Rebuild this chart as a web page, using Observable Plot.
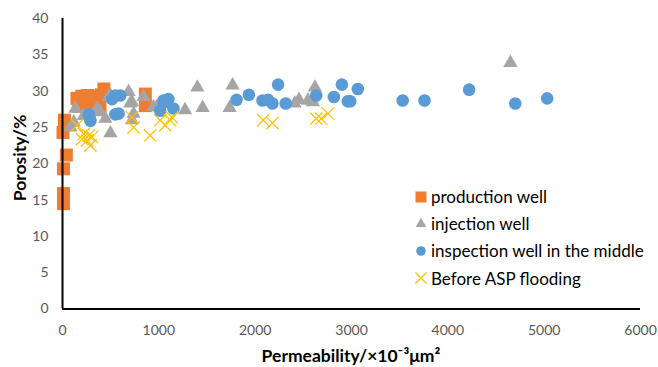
<!DOCTYPE html>
<html><head><meta charset="utf-8">
<script src="https://cdn.jsdelivr.net/npm/d3@7"></script>
<script src="https://cdn.jsdelivr.net/npm/@observablehq/plot@0.6"></script>
<style>
body{margin:0;background:#fff;}
#chart{position:relative;width:658px;height:367px;font-family:Lato,"Open Sans",sans-serif;}
#chart svg{display:block;}
.lab{position:absolute;font-weight:bold;font-size:17.5px;color:#000;white-space:nowrap;}
#legend{position:absolute;left:414px;top:183px;font-size:17px;color:#000;}
#legend .row{height:27.2px;display:flex;align-items:center;white-space:nowrap;}
#legend svg{margin-right:3px;}
</style></head><body>
<div id="chart"></div>
<script>
const seriesNames = ["production well", "injection well", "inspection well in the middle", "Before ASP flooding"];
const seriesColors = ["#ED7D31", "#A5A5A5", "#5B9BD5", "#FFC000"];
const xTicks = [0, 1000, 2000, 3000, 4000, 5000, 6000];
const yTicks = [0, 5, 10, 15, 20, 25, 30, 35, 40];

const productionX = [10, 10, 10, 40, 5, 20, 150, 200, 260, 330, 430, 400, 170, 250, 320, 390, 280, 860, 860];
const productionY = [14.5, 15.9, 19.3, 21.2, 24.3, 26.0, 29.0, 29.3, 29.4, 29.2, 30.3, 29.5, 27.9, 28.0, 28.2, 27.9, 27.2, 29.6, 28.0];

const injectionX = [83, 117, 135, 221, 359, 393, 445, 497, 479, 497, 686, 703, 721, 738, 721, 841, 945, 980, 1272, 1400, 1455, 1735, 1766, 2410, 2455, 2548, 2600, 2620, 4650];
const injectionY = [25.0, 25.7, 27.6, 26.6, 27.6, 27.1, 26.2, 24.2, 29.2, 29.4, 29.9, 28.3, 28.5, 26.9, 26.0, 29.2, 27.8, 27.8, 27.4, 30.5, 27.7, 27.7, 30.8, 28.3, 28.8, 28.7, 28.5, 30.5, 33.9];

const inspectionX = [272, 290, 514, 548, 548, 583, 600, 1014, 1048, 1066, 1100, 1152, 1807, 1935, 2076, 2134, 2179, 2238, 2317, 2634, 2817, 2900, 2962, 2986, 3066, 3531, 3758, 4221, 4700, 5031];
const inspectionY = [26.8, 25.9, 28.9, 29.4, 26.8, 26.9, 29.4, 27.3, 28.7, 28.5, 28.9, 27.6, 28.8, 29.5, 28.7, 28.8, 28.3, 30.9, 28.3, 29.4, 29.2, 30.9, 28.6, 28.6, 30.3, 28.7, 28.7, 30.2, 28.3, 29.0];

const beforeX = [152, 203, 221, 255, 272, 290, 307, 721, 738, 910, 1014, 1066, 1117, 1135, 2083, 2179, 2634, 2686, 2755];
const beforeY = [25.3, 23.4, 24.1, 23.2, 23.9, 22.5, 23.7, 26.4, 25.0, 23.9, 26.0, 25.3, 26.0, 26.4, 26.0, 25.6, 26.2, 26.2, 26.9];

const toRows = (xs, ys) => xs.map((x, i) => ({x, y: ys[i]}));
const production = toRows(productionX, productionY);
const injection = toRows(injectionX, injectionY);
const inspection = toRows(inspectionX, inspectionY);
const before = toRows(beforeX, beforeY);

const plot = Plot.plot({
  width: 658, height: 367,
  marginLeft: 62, marginRight: 18, marginTop: 18, marginBottom: 58.5,
  style: {fontFamily: 'Lato, "Open Sans", sans-serif', fontSize: "14px", color: "#595959", background: "#fff"},
  x: {domain: [0, 6000], ticks: xTicks, tickSize: 0, tickPadding: 16, label: null, tickFormat: d => String(d)},
  y: {domain: [0, 40], ticks: yTicks, tickSize: 0, tickPadding: 14, label: null},
  marks: [
    Plot.dot(production, {x: "x", y: "y", symbol: "square", r: 7.3, fill: seriesColors[0], stroke: "none"}),
    Plot.dot(injection, {x: "x", y: "y", symbol: "triangle", r: 5.3, fill: seriesColors[1], stroke: "none"}),
    Plot.dot(inspection, {x: "x", y: "y", symbol: "circle", r: 6.3, fill: seriesColors[2], stroke: "none"}),
    Plot.dot(before, {x: "x", y: "y", symbol: "times", r: 5.7, stroke: seriesColors[3], strokeWidth: 1.2, fill: "none"}),
    Plot.ruleY([0], {x1: 0, x2: 6000, stroke: "#000", strokeWidth: 2}),
    Plot.ruleX([0], {y1: 0, y2: 40, stroke: "#000", strokeWidth: 2})
  ]
});
const chart = document.getElementById("chart");
chart.appendChild(plot);

const ylab = document.createElement("div");
ylab.className = "lab";
ylab.textContent = "Porosity/%";
ylab.style.left = "19px"; ylab.style.top = "158px";
ylab.style.transform = "translate(-50%,-50%) rotate(-90deg)";
chart.appendChild(ylab);

const xlab = document.createElement("div");
xlab.className = "lab";
xlab.textContent = "Permeability/×10⁻³μm²";
xlab.style.left = "351px"; xlab.style.top = "355px";
xlab.style.transform = "translate(-50%,-50%)";
chart.appendChild(xlab);

const legend = document.createElement("div");
legend.id = "legend";
seriesNames.forEach((name, i) => {
  const row = document.createElement("div");
  row.className = "row";
  const s = d3.create("svg").attr("width", 14).attr("height", 14);
  const g = s.append("g").attr("transform", "translate(7,7)");
  if (i === 0) g.append("rect").attr("x", -5.5).attr("y", -5.5).attr("width", 11).attr("height", 11).attr("fill", seriesColors[0]);
  if (i === 1) g.append("path").attr("d", d3.symbol(d3.symbolTriangle, 50)()).attr("fill", seriesColors[1]);
  if (i === 2) g.append("circle").attr("r", 4.8).attr("fill", seriesColors[2]);
  if (i === 3) g.append("path").attr("d", "M-5.5,-5.5L5.5,5.5M-5.5,5.5L5.5,-5.5").attr("stroke", seriesColors[3]).attr("stroke-width", 1.3);
  row.appendChild(s.node());
  const t = document.createElement("span");
  t.textContent = name;
  row.appendChild(t);
  legend.appendChild(row);
});
chart.appendChild(legend);
</script>
</body></html>
